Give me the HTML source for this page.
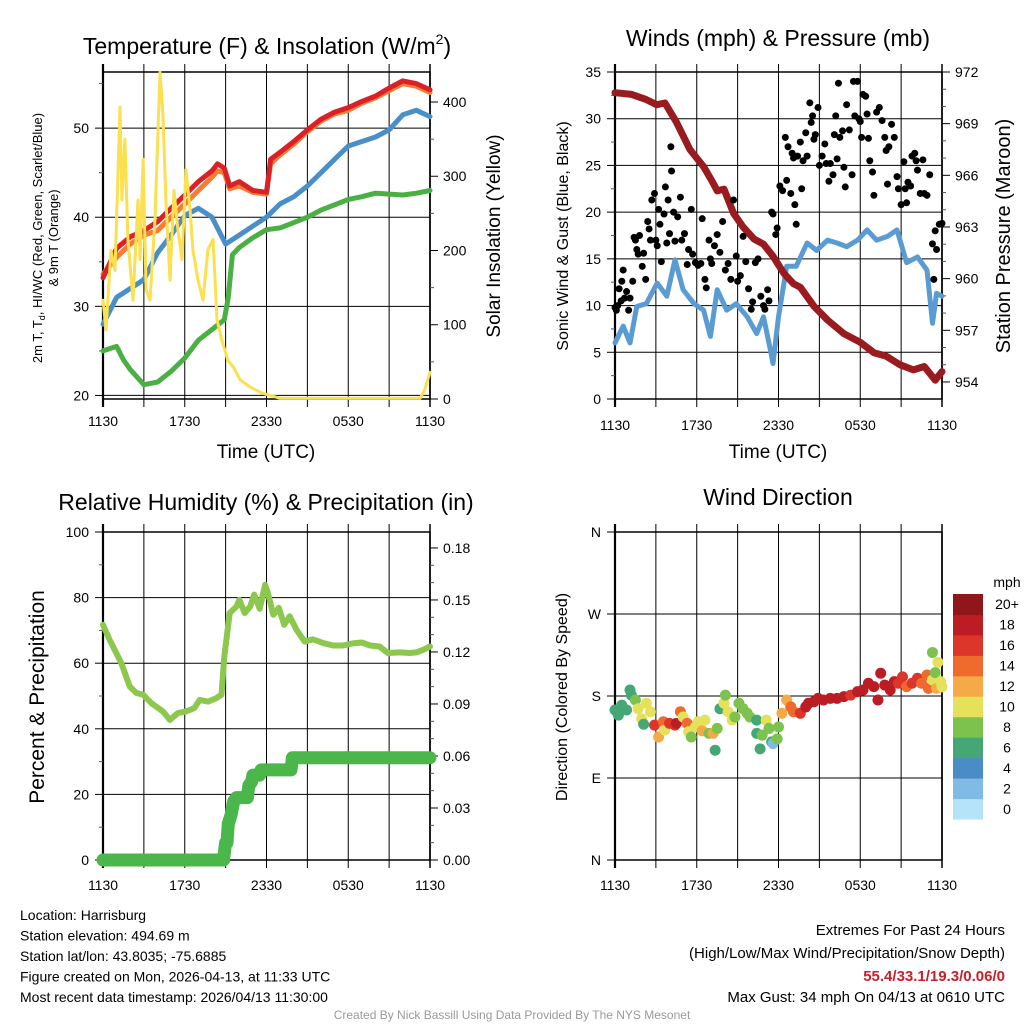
<!DOCTYPE html>
<html><head><meta charset="utf-8"><title>Mesonet Station Meteogram</title>
<style>
html,body{margin:0;padding:0;background:#fff;}
svg{display:block;font-family:"Liberation Sans",Arial,sans-serif;}
</style></head>
<body>
<svg id="chart" width="1024" height="1024" viewBox="0 0 1024 1024" xmlns="http://www.w3.org/2000/svg">
<rect x="0" y="0" width="1024" height="1024" fill="#fff"/>
</svg>
<script>
// ---------- DATA (hours after 1130 UTC) ----------
const xTickHours = [0, 6, 12, 18, 24];
const xTickLabels = ['1130', '1730', '2330', '0530', '1130'];

const tempHours = [0,1,2,3,4,5,6,7,8,8.4,8.9,9.3,10,11,12,12.3,13,14,15,16,17,18,19,20,21,22,23,24];
const temp2m = [33.2,36.5,37.8,38.5,39.5,41,42.5,44,45.2,46,45.5,43.5,44,43,42.8,46.5,47.3,48.5,49.8,51,51.8,52.3,53,53.6,54.5,55.3,55,54.3];
const temp9m = [33.6,35.5,37,38,38.5,40,41.5,43,44.5,45.2,45,43.2,43.5,42.8,42.6,46,47,48.2,49.6,50.8,51.6,52,52.8,53.4,54.2,55,54.7,54];
const dewHours = [0,1,2,3,4,5,6,7,8,9,10,11,12,13,14,15,16,17,18,19,20,21,22,23,24];
const dewPoint = [28,31,32,33,36,38,40.2,41,40,37,38,39,40,41.5,42.3,43.5,45,46.5,48,48.5,49,49.8,51.5,52,51.3];
const hiwcHours = [0,1,1.5,2,3,4,5,6,7,8,8.9,9.2,9.5,10,11,12,13,14,15,16,17,18,19,20,21,22,23,24];
const hiwc = [25,25.5,24,22.9,21.2,21.5,22.7,24.2,26.2,27.4,28.5,31,35.8,36.6,37.7,38.6,38.8,39.4,40,40.8,41.4,42,42.3,42.7,42.6,42.5,42.7,43];
const solarHours = [0,0.22,0.59,0.88,1.25,1.39,1.61,1.83,2.2,2.57,2.72,2.94,3.16,3.45,3.82,4.18,4.4,4.62,4.92,5.21,5.5,5.8,6.09,6.39,6.6,6.97,7.34,7.7,8.07,8.37,8.73,9.17,9.61,10.06,10.8,11.67,13,23.27,23.6,24];
const solar = [133,93,200,173,393,268,350,215,133,268,188,323,147,133,242,440,383,268,160,281,228,188,309,255,201,160,133,201,215,107,79,52,42,26,16,8,1,1,12,36];

const presHours = [0,1.22,2.3,3.06,3.67,4.5,5.5,6.5,7.1,7.5,8,8.7,9.4,10.2,10.9,11.6,12.4,13.1,13.6,14.6,15.6,16.8,18,19,19.9,20.9,21.9,22.7,23.5,24];
const pressure = [970.8,970.7,970.4,970.1,970.2,969.1,967.5,966.5,965.7,965.1,965.2,963.8,963,962.3,962,961.3,960.3,959.7,959.5,958.4,957.6,956.8,956.3,955.7,955.5,955,954.7,954.9,954.1,954.6];
const windHours = [0,0.6,1.1,1.6,2.3,3.1,3.8,4.4,5,5.8,6.5,7,7.5,8.2,8.9,9.7,10.4,10.9,11.4,11.6,12,12.6,13.3,14.1,14.8,15.6,16.3,17,17.8,18.5,19.2,20,20.7,21.4,22.2,22.9,23.3,23.6,24];
const sonicWind = [6,7.8,6,9.9,10.2,12.4,11,14.9,11.7,10.2,9.5,6.7,11.7,9.5,10.2,8.8,7,8.8,5.3,3.8,8.8,14.2,14.2,16.7,15.9,17,16.7,16.3,17,18.1,17,17.4,18.1,14.6,15.2,13.8,8.1,11.3,11];
const gustHours = [0,0.1,0.2,0.3,0.45,0.5,0.6,0.7,0.85,1.0,1.1,1.3,1.4,1.5,1.6,1.7,1.8,2.0,2.1,2.25,2.4,2.5,2.6,2.7,2.9,3.0,3.1,3.2,3.3,3.4,3.6,3.7,3.8,3.9,4.0,4.1,4.15,4.3,4.4,4.6,4.8,4.9,5.1,5.3,5.4,5.6,5.7,5.9,6.1,6.3,6.4,6.6,6.7,6.9,7.0,7.1,7.3,7.5,7.7,7.9,8.1,8.3,8.5,8.7,8.9,9.0,9.2,9.4,9.6,9.8,10.0,10.1,10.3,10.5,10.7,10.9,11.0,11.2,11.3,11.5,11.6,11.8,11.9,12.1,12.3,12.5,12.6,12.7,12.9,13.0,13.1,13.2,13.3,13.4,13.6,13.7,13.8,14.0,14.1,14.3,14.4,14.5,14.6,14.7,14.9,15.0,15.2,15.4,15.5,15.7,15.8,16.0,16.1,16.2,16.3,16.4,16.5,16.7,16.8,16.9,17.0,17.2,17.4,17.5,17.6,17.8,17.9,18.0,18.1,18.2,18.4,18.5,18.6,18.7,18.9,19.0,19.2,19.4,19.6,19.8,19.9,20.0,20.1,20.3,20.5,20.7,20.8,21.0,21.2,21.3,21.4,21.5,21.7,21.8,22.0,22.1,22.2,22.4,22.6,22.7,22.9,23.1,23.3,23.4,23.5,23.6,23.8,24];
const gust = [9.8,9.5,10,11.8,10.5,12.6,13.8,10.8,11.5,9.5,10.8,12.6,17.3,17,16,15.5,17.5,14.2,15.6,12.8,19,18.2,17,21.3,22,17,16.4,20.3,18.7,14.7,19.8,22.7,16.7,21.3,17.7,27,24.4,20,16.9,19.5,21.6,17,17.7,14.4,16,20.3,15.5,14.6,14.3,14.5,19.3,12.8,11.9,17,15,14.5,16.4,17.6,15.7,19,13.8,14.5,12.8,21.3,15.3,12.6,13.2,17.4,14.7,11.8,9.6,10.4,14.6,15,11,10,9.6,11.7,10.5,20,19.8,17.6,18.3,22.8,22.3,28,23.4,27,22,26.3,25.8,20.8,18.7,26,27.5,22.5,25.5,28.5,26,31.7,29.6,30.3,27.8,28.3,31.2,25,26,27.3,25.2,23.3,25.2,24,28.3,30.3,25.7,33.8,28,28.7,24.8,22.7,31.5,28.8,24,34,30.3,34,30,29.7,28,32.6,32.4,30.5,27.9,25.5,24.3,21.8,30.7,31.2,29.8,28,26.6,23,27,29.4,28,23.8,22.5,20.8,25.4,22.5,21,23.2,22.8,26,26.3,25.5,24.5,22,25.6,22,21.8,24,16.6,12.8,18,16,18.7,18.8];

const rhHours = [0,0.5,1.35,1.96,2.45,2.94,3.55,4.4,4.9,5.5,6.1,6.7,7.1,7.7,8.3,8.7,8.9,9.3,9.8,10.0,10.4,10.8,11.1,11.5,11.9,12.1,12.5,12.9,13.3,13.7,14.2,14.8,15.4,16.2,16.9,17.6,18.4,19,19.6,20.3,20.9,21.8,22.5,23,23.5,24];
const rh = [71.7,67,60,52.9,50.9,50.4,47.8,45.3,42.7,44.8,45.3,46.3,48.8,48.3,49.3,50.4,62,75.3,77.3,79.3,75.3,77.3,80.9,76.6,83.9,81.4,74.8,76.9,71.7,74.3,70.2,66.6,67.3,66.1,65.4,65.4,66.1,66.3,65.4,65.1,63.1,63.3,63.1,63.3,64.1,65.1];
const precipHours = [0,8.85,8.9,9.0,9.1,9.2,9.4,9.6,9.8,10.6,10.7,10.9,11.0,11.5,11.6,13.8,13.9,24];
const precip = [0,0,0.004,0.01,0.01,0.021,0.026,0.034,0.036,0.036,0.043,0.045,0.049,0.049,0.052,0.052,0.059,0.059];

const dirHours = [0,0.25,0.5,0.85,1.1,1.2,1.5,1.7,1.95,2.3,2.6,2.1,2.9,3.2,3.55,3.65,4,4.4,4.5,4.8,5,5.3,5.4,5.6,5.9,6.1,6.4,6.6,6.9,7.2,7.35,7.5,7.7,8,8.1,8.3,8.6,8.8,9.1,9.4,9.7,9.9,10.4,10.4,10.8,11.1,11.3,10.65,11.5,11.6,11.9,12,12.25,12.6,12.9,13.1,13.6,14,14.2,14.6,14.9,15.3,15.8,16.3,16.8,17.3,17.8,18.2,18.6,19,19.3,19.5,19.8,20.2,20.5,20.8,21.1,21.4,21.8,22.2,22.5,22.9,23,23.3,23.3,23.5,23.6,23.7,23.9,24];
const dirDeg = [164.6,159,170,164.6,186.6,181,175.6,166,155,172,162.7,149,148,135,151.7,142.5,150,148,150,162.7,157,150,140.7,135,146,151.7,141.8,153.5,139,139,120.5,144.4,166,172,181,162.7,153.5,157,172,166,161,157,153.5,139,137,153.5,144.4,122,129.7,127.8,133,146,161,175.6,168,162.7,161,168,172,173.7,177.4,175.6,177.4,177.4,179.3,181,184.8,186.6,194,190.3,175.6,205,192,186.6,195.8,194,201,190.3,194,199.5,194,203,188.4,197.6,227.8,205.7,188.4,217,195.8,190];
const dirSpeed = [6,6,6,6,6,6,8,10,10,10,10,6,16,12,14,10,16,16,17,14,10,14,10,8,10,10,12,10,8,12,6,8,6,10,8,10,10,8,8,8,8,8,6,6,8,10,8,6,6,2,8,8,12,12,14,14,16,17,18,18,18,18,18,18,17,16,18,18,18,18,18,17,18,18,18,16,16,14,16,16,14,14,14,10,8,8,12,10,10,10];
const speedBins = [0,2,4,6,8,10,12,14,16,18,20];
const speedLabels = ['0','2','4','6','8','10','12','14','16','18','20+'];
const speedColors = ['#b5e3f8','#7fbbe4','#4a8dc6','#46a776','#7cc24d','#e6e15a','#f6aa47','#ef6a2d','#dc3529','#bc1d24','#8f1619'];

// ---------- HELPERS ----------
const NS = 'http://www.w3.org/2000/svg';
const svg = document.getElementById('chart');
function mk(tag, attrs, parent) {
  const e = document.createElementNS(NS, tag);
  for (const k in attrs) e.setAttribute(k, attrs[k]);
  (parent || svg).appendChild(e);
  return e;
}
function mkText(str, x, y, size, anchor, parent) {
  const t = mk('text', {x: x, y: y, 'font-size': size, 'text-anchor': anchor || 'middle', fill: '#000'}, parent);
  t.textContent = str;
  return t;
}
function panel(x0, x1, y0, y1, lmin, lmax, rmin, rmax) {
  return {x0, x1, y0, y1, lmin, lmax, rmin, rmax,
    x: h => x0 + h / 24 * (x1 - x0),
    ly: v => y1 - (v - lmin) / (lmax - lmin) * (y1 - y0),
    ry: v => y1 - (v - rmin) / (rmax - rmin) * (y1 - y0)};
}
function pathD(hs, vs, xf, yf) {
  let d = '';
  for (let i = 0; i < hs.length; i++) d += (i ? 'L' : 'M') + xf(hs[i]).toFixed(1) + ' ' + yf(vs[i]).toFixed(1);
  return d;
}
function drawAxes(p, g, leftMaj, leftMin, leftLab, rightMaj, rightMin, rightLab, gridVals, labelY) {
  for (let h = 3; h < 24; h += 3) {
    const l = mk('line', {x1: p.x(h), x2: p.x(h), y1: p.y0 - 8, y2: p.y1 + 8, stroke: '#000', 'stroke-width': 1}, g);
    
    
  }
  gridVals.forEach(v => {
    const l = mk('line', {x1: p.x0, x2: p.x1, y1: p.ly(v), y2: p.ly(v), stroke: '#000', 'stroke-width': 1}, g);
    
    
  });
  const fr = mk('rect', {x: p.x0, y: p.y0, width: p.x1 - p.x0, height: p.y1 - p.y0, fill: 'none', stroke: '#000', 'stroke-width': 1.5}, g);
  
  
  const lb = mk('line', {x1: p.x0, x2: p.x0, y1: p.y0 - 8, y2: p.y1 + 8, stroke: '#000', 'stroke-width': 2.2}, g);
  
  
  const rb = mk('line', {x1: p.x1, x2: p.x1, y1: p.y0 - 8, y2: p.y1 + 8, stroke: '#000', 'stroke-width': 1.5}, g);
  
  
  leftMaj.forEach((v, i) => {
    const t = mk('line', {x1: p.x0 - 8, x2: p.x0, y1: p.ly(v), y2: p.ly(v), stroke: '#000', 'stroke-width': 1}, g);
    
    
    const tl = mkText(leftLab[i], p.x0 - 14, p.ly(v) + 5, 14, 'end', g);
    
    
  });
  leftMin.forEach(v => {
    const t = mk('line', {x1: p.x0 - 4, x2: p.x0, y1: p.ly(v), y2: p.ly(v), stroke: '#555', 'stroke-width': 1}, g);
    
    
  });
  rightMaj.forEach((v, i) => {
    const t = mk('line', {x1: p.x1, x2: p.x1 + 8, y1: p.ry(v), y2: p.ry(v), stroke: '#000', 'stroke-width': 1}, g);
    
    
    const tl = mkText(rightLab[i], p.x1 + 13, p.ry(v) + 5, 14, 'start', g);
    
    
  });
  rightMin.forEach(v => {
    const t = mk('line', {x1: p.x1, x2: p.x1 + 4, y1: p.ry(v), y2: p.ry(v), stroke: '#555', 'stroke-width': 1}, g);
    
    
  });
  xTickHours.forEach((h, i) => {
    const tl = mkText(xTickLabels[i], p.x(h), labelY, 14, 'middle', g);
    
    
  });
}
function series(g, d, color, w, name) {
  const s = mk('path', {d: d, fill: 'none', stroke: color, 'stroke-width': w, 'stroke-linejoin': 'round', 'stroke-linecap': 'round'}, g);
  
  
  return s;
}
function rotLabel(str, x, y, size, g) {
  const t = mk('text', {x: 0, y: 0, 'font-size': size, 'text-anchor': 'middle', transform: 'translate(' + x + ',' + y + ') rotate(-90)'}, g);
  t.textContent = str;
  return t;
}

// ---------- PANEL 1: Temperature ----------
const g1 = mk('g', {});


const p1 = panel(103, 430, 72, 399, 19.6, 56.3, 0, 440.4);
drawAxes(p1, g1, [20,30,40,50], [25,35,45,55], ['20','30','40','50'], [0,100,200,300,400], [50,150,250,350], ['0','100','200','300','400'], [20,30,40,50], 426);
series(g1, pathD(tempHours, temp9m, p1.x, p1.ly), '#f47d32', 5, 'temp-9m-line');
series(g1, pathD(tempHours, temp2m, p1.x, p1.ly), '#d92127', 5, 'temp-2m-line');
series(g1, pathD(dewHours, dewPoint, p1.x, p1.ly), '#4a8fc8', 5, 'dewpoint-line');
series(g1, pathD(hiwcHours, hiwc, p1.x, p1.ly), '#4bb043', 5, 'heat-index-windchill-line');
series(g1, pathD(solarHours, solar, p1.x, p1.ry), '#fbe04f', 3, 'solar-insolation-line');
const t1 = mk('text', {x: 267, y: 54, 'font-size': 23, 'text-anchor': 'middle', fill: '#000'}, g1);


const t1a = mk('tspan', {}, t1);
t1a.textContent = 'Temperature (F) & Insolation (W/m';
const t1b = mk('tspan', {'font-size': 14, dy: -10}, t1);
t1b.textContent = '2';
const t1c = mk('tspan', {dy: 10}, t1);
t1c.textContent = ')';
const x1l = mkText('Time (UTC)', 266, 458, 19, 'middle', g1);


const y1a = mk('text', {x: 0, y: 0, 'font-size': 13, 'text-anchor': 'middle', transform: 'translate(42,238) rotate(-90)'}, g1);


const y1s1 = mk('tspan', {}, y1a);
y1s1.textContent = '2m T, T';
const y1s2 = mk('tspan', {'font-size': 9, dy: 3}, y1a);
y1s2.textContent = 'd';
const y1s3 = mk('tspan', {dy: -3}, y1a);
y1s3.textContent = ', HI/WC (Red, Green, Scarlet/Blue)';
const y1b = rotLabel('& 9m T (Orange)', 58, 238, 13, g1);


const y1r = rotLabel('Solar Insolation (Yellow)', 500, 236, 19, g1);



// ---------- PANEL 2: Winds & Pressure ----------
const g2 = mk('g', {});


const p2 = panel(615, 942, 72, 399, 0, 35, 953.01, 972);
drawAxes(p2, g2, [0,5,10,15,20,25,30,35], [2.5,7.5,12.5,17.5,22.5,27.5,32.5], ['0','5','10','15','20','25','30','35'], [954,957,960,963,966,969,972], [955,956,958,959,961,962,964,965,967,968,970,971], ['954','957','960','963','966','969','972'], [5,10,15,20,25,30], 430);
series(g2, pathD(windHours, sonicWind, p2.x, p2.ly), '#5a9bd4', 5, 'sonic-wind-line');
series(g2, pathD(presHours, pressure, p2.x, p2.ry), '#9a1b1f', 7, 'station-pressure-line');
gustHours.forEach((h, i) => {
  const c = mk('circle', {cx: p2.x(h), cy: p2.ly(gust[i]), r: 3.5, fill: '#000'}, g2);
  
  
});
const t2 = mkText('Winds (mph) & Pressure (mb)', 778, 46, 23, 'middle', g2);


const x2l = mkText('Time (UTC)', 778, 458, 19, 'middle', g2);


const y2a = rotLabel('Sonic Wind & Gust (Blue, Black)', 568, 236, 16, g2);


const y2r = rotLabel('Station Pressure (Maroon)', 1010, 236, 20, g2);



// ---------- PANEL 3: RH & Precip ----------
const g3 = mk('g', {});


const p3 = panel(103, 430, 532, 860, 0, 100, 0, 0.1892);
drawAxes(p3, g3, [0,20,40,60,80,100], [10,30,50,70,90], ['0','20','40','60','80','100'], [0,0.03,0.06,0.09,0.12,0.15,0.18], [0.01,0.02,0.04,0.05,0.07,0.08,0.1,0.11,0.13,0.14,0.16,0.17], ['0.00','0.03','0.06','0.09','0.12','0.15','0.18'], [20,40,60,80], 890);
series(g3, pathD(rhHours, rh, p3.x, p3.ly), '#8cc84d', 6, 'relative-humidity-line');
series(g3, pathD(precipHours, precip, p3.x, p3.ry), '#4bb649', 13, 'precipitation-line');
const t3 = mkText('Relative Humidity (%) & Precipitation (in)', 266, 510, 23, 'middle', g3);


const y3a = rotLabel('Percent & Precipitation', 44, 697, 21, g3);



// ---------- PANEL 4: Wind Direction ----------
const g4 = mk('g', {});


const p4 = panel(615, 942, 532, 860, 0, 360, 0, 360);
drawAxes(p4, g4, [0,90,180,270,360], [], ['N','E','S','W','N'], [], [], [], [90,180,270], 890);
function speedColor(s) {
  let idx = 0;
  for (let i = 0; i < speedBins.length; i++) if (s >= speedBins[i] - 1) idx = i;
  return speedColors[idx];
}
dirHours.forEach((h, i) => {
  const c = mk('circle', {cx: p4.x(h), cy: p4.ly(dirDeg[i]), r: 5.5, fill: speedColor(dirSpeed[i])}, g4);
  
  
});
const t4 = mkText('Wind Direction', 778, 505, 23, 'middle', g4);


const y4a = rotLabel('Direction (Colored By Speed)', 567, 697, 16, g4);


const cb = mk('g', {}, g4);


const boxH = 225 / speedColors.length;
speedColors.forEach((col, i) => {
  const yTop = 594 + (speedColors.length - 1 - i) * boxH;
  const r = mk('rect', {x: 953, y: yTop, width: 30, height: boxH + 0.5, fill: col}, cb);
  
  
  const l = mkText(speedLabels[i], 1007, yTop + boxH / 2 + 5, 14, 'middle', cb);
  
  
});
const mph = mkText('mph', 1007, 587, 14, 'middle', cb);



// ---------- FOOTER ----------
const ft = mk('g', {});


const infoLines = ['Location: Harrisburg', 'Station elevation: 494.69 m', 'Station lat/lon: 43.8035; -75.6885', 'Figure created on Mon, 2026-04-13, at 11:33 UTC', 'Most recent data timestamp: 2026/04/13 11:30:00'];
infoLines.forEach((s, i) => {
  const t = mkText(s, 20, 920 + i * 20.5, 14, 'start', ft);
  
  
});
const e1 = mkText('Extremes For Past 24 Hours', 1005, 935, 15, 'end', ft);


const e2 = mkText('(High/Low/Max Wind/Precipitation/Snow Depth)', 1005, 958, 15, 'end', ft);


const e3 = mkText('55.4/33.1/19.3/0.06/0', 1005, 981, 15, 'end', ft);
e3.setAttribute('fill', '#c8202a');
e3.setAttribute('font-weight', 'bold');


const e4 = mkText('Max Gust: 34 mph On 04/13 at 0610 UTC', 1005, 1002, 15, 'end', ft);


const cr = mkText('Created By Nick Bassill Using Data Provided By The NYS Mesonet', 512, 1019, 12, 'middle', ft);
cr.setAttribute('fill', '#999');


</script>
</body></html>
